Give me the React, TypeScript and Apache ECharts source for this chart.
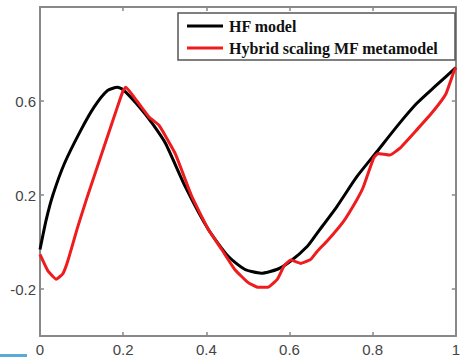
import React, { useEffect, useRef } from "react";
import * as echarts from "echarts";

const hfX = [0, 0.015, 0.031, 0.059, 0.098, 0.13, 0.162, 0.186, 0.2, 0.246, 0.273, 0.302, 0.349, 0.405, 0.452, 0.492, 0.532, 0.571, 0.603, 0.643, 0.667, 0.714, 0.762, 0.81, 0.857, 0.905, 0.952, 1.0];
const hfY = [-0.032, 0.095, 0.2, 0.335, 0.475, 0.574, 0.644, 0.658, 0.648, 0.56, 0.497, 0.419, 0.237, 0.053, -0.06, -0.116, -0.133, -0.116, -0.081, -0.018, 0.039, 0.151, 0.278, 0.384, 0.489, 0.588, 0.665, 0.742];

const mfX = [0, 0.019, 0.039, 0.055, 0.067, 0.09, 0.114, 0.154, 0.186, 0.2, 0.206, 0.233, 0.262, 0.286, 0.325, 0.365, 0.405, 0.437, 0.468, 0.5, 0.524, 0.548, 0.571, 0.587, 0.603, 0.627, 0.651, 0.667, 0.69, 0.73, 0.762, 0.778, 0.802, 0.813, 0.841, 0.865, 0.905, 0.944, 0.976, 0.996, 1.0];
const mfY = [-0.053, -0.123, -0.158, -0.135, -0.08, 0.06, 0.194, 0.405, 0.574, 0.644, 0.658, 0.6, 0.532, 0.497, 0.377, 0.194, 0.053, -0.032, -0.116, -0.172, -0.193, -0.193, -0.158, -0.102, -0.077, -0.091, -0.074, -0.039, 0.003, 0.088, 0.18, 0.236, 0.356, 0.377, 0.37, 0.398, 0.475, 0.553, 0.63, 0.729, 0.742];

const xTicks = [0, 0.2, 0.4, 0.6, 0.8, 1];
const yTicks = [-0.2, 0.2, 0.6];
const seriesNames = ["HF model", "Hybrid scaling MF metamodel"];

export default function App() {
  const ref = useRef<HTMLDivElement>(null);
  useEffect(() => {
    document.body.style.margin = "0";
    const chart = echarts.init(ref.current!, null, { renderer: "svg" });
    const axisLine = { show: true, onZero: false, lineStyle: { color: "#888888", width: 2 } };
    const tick = (vals: number[]) => ({ show: true, inside: true, length: 4, lineStyle: { color: "#888888", width: 1.5 }, customValues: vals });
    const label = { color: "#444444", fontSize: 15, fontFamily: "Arial, Liberation Sans, sans-serif" };
    chart.setOption({
      animation: false,
      backgroundColor: "#ffffff",
      grid: { left: 40, right: 3, top: 7, bottom: 20, containLabel: false },
      xAxis: [
        {
          type: "value", min: 0, max: 1, interval: 0.2, position: "bottom",
          axisLine, splitLine: { show: false }, axisTick: tick(xTicks),
          axisLabel: { ...label, margin: 6, customValues: xTicks, formatter: (v: number) => String(v) },
        },
        {
          type: "value", min: 0, max: 1, interval: 0.2, position: "top",
          axisLine, splitLine: { show: false }, axisTick: tick(xTicks),
          axisLabel: { show: false },
        },
      ],
      yAxis: [
        {
          type: "value", min: -0.4, max: 1.0, position: "left",
          axisLine, splitLine: { show: false }, axisTick: tick(yTicks),
          axisLabel: { ...label, margin: 4, customValues: yTicks, formatter: (v: number) => String(v) },
        },
        {
          type: "value", min: -0.4, max: 1.0, position: "right",
          axisLine, splitLine: { show: false }, axisTick: tick(yTicks),
          axisLabel: { show: false },
        },
      ],
      series: [
        {
          name: seriesNames[0], type: "line", smooth: 0.2, showSymbol: false,
          data: hfX.map((x, i) => [x, hfY[i]]),
          lineStyle: { color: "#000000", width: 3 }, z: 2,
        },
        {
          name: seriesNames[1], type: "line", smooth: 0.12, showSymbol: false,
          data: mfX.map((x, i) => [x, mfY[i]]),
          lineStyle: { color: "#ee1c1c", width: 3 }, z: 3,
        },
      ],
      graphic: [
        {
          type: "rect", shape: { x: 178, y: 13, width: 277, height: 47 },
          style: { fill: "#ffffff", stroke: "#555555", lineWidth: 1.5 }, z: 100,
        },
        { type: "line", shape: { x1: 187, y1: 26, x2: 223, y2: 26 }, style: { stroke: "#000000", lineWidth: 3 }, z: 101 },
        { type: "line", shape: { x1: 187, y1: 48, x2: 223, y2: 48 }, style: { stroke: "#ee1c1c", lineWidth: 3 }, z: 101 },
        {
          type: "text", x: 229, y: 26, z: 101,
          style: { text: seriesNames[0], font: "bold 16px 'Liberation Serif', 'Times New Roman', serif", fill: "#111111", verticalAlign: "middle" },
        },
        {
          type: "text", x: 229, y: 48, z: 101,
          style: { text: seriesNames[1], font: "bold 16px 'Liberation Serif', 'Times New Roman', serif", fill: "#111111", verticalAlign: "middle" },
        },
        { type: "rect", shape: { x: 0, y: 354, width: 27, height: 3 }, style: { fill: "#5aaad8" }, z: 100 },
      ],
    });
    return () => chart.dispose();
  }, []);
  return <div ref={ref} style={{ width: 463, height: 357 }} />;
}
